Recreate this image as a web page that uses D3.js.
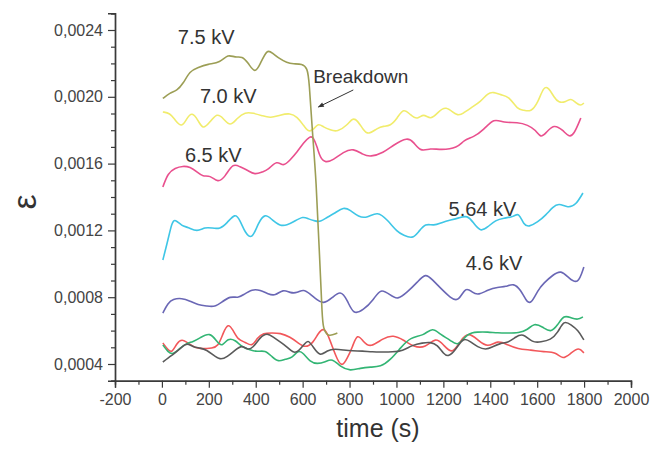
<!DOCTYPE html>
<html>
<head>
<meta charset="utf-8">
<script src="https://cdn.jsdelivr.net/npm/d3@7"></script>
<style>
  body { margin: 0; background: #fff; }
  text { font-family: "Liberation Sans", Arial, sans-serif; }
</style>
</head>
<body>
<div id="chart"></div>
<script>
const width = 652, height = 450;

// 7.5 kV (breaks down near 650 s)
const t_75 = [4, 34, 64, 90, 120, 150, 197, 248, 282, 312, 342, 368, 397, 419, 449, 470, 496, 534, 560, 598, 620, 628, 641, 658, 671, 684, 688, 705, 748];
const e_75 = [0.00199, 0.002024, 0.002036, 0.002078, 0.002155, 0.002173, 0.002197, 0.002203, 0.002257, 0.002233, 0.002245, 0.002203, 0.002137, 0.002197, 0.002287, 0.002263, 0.002233, 0.002203, 0.002197, 0.002197, 0.002173, 0.002095, 0.001797, 0.001498, 0.00108, 0.000662, 0.00062, 0.00056, 0.000585];

// 7.0 kV
const t_70 = [4, 34, 56, 85, 107, 128, 154, 175, 205, 235, 261, 291, 321, 355, 389, 432, 462, 504, 547, 577, 603, 624, 645, 667, 688, 718, 748, 791, 812, 833, 859, 880, 919, 944, 974, 1004, 1030, 1060, 1090, 1115, 1145, 1175, 1209, 1261, 1286, 1316, 1359, 1389, 1415, 1444, 1479, 1517, 1543, 1573, 1603, 1628, 1650, 1671, 1692, 1722, 1744, 1765, 1786, 1799];
const e_70 = [0.001909, 0.001903, 0.001861, 0.001813, 0.001873, 0.001909, 0.001861, 0.001801, 0.001849, 0.001903, 0.001873, 0.001819, 0.001873, 0.001909, 0.001903, 0.001885, 0.001873, 0.001891, 0.001903, 0.001879, 0.001831, 0.001789, 0.001801, 0.001843, 0.001819, 0.001801, 0.001789, 0.001831, 0.001873, 0.001861, 0.001801, 0.001771, 0.001813, 0.001825, 0.001825, 0.001873, 0.001933, 0.001891, 0.001861, 0.001903, 0.001861, 0.001903, 0.001951, 0.001879, 0.001903, 0.001933, 0.001969, 0.002023, 0.002029, 0.002011, 0.002005, 0.001921, 0.001921, 0.001909, 0.001963, 0.002065, 0.002053, 0.001999, 0.001963, 0.001969, 0.001993, 0.001963, 0.001945, 0.001963];

// 6.5 kV
const t_65 = [4, 26, 56, 90, 120, 150, 175, 205, 239, 269, 303, 333, 363, 397, 427, 453, 491, 517, 547, 577, 603, 632, 645, 662, 675, 697, 731, 774, 816, 859, 889, 944, 987, 1047, 1073, 1103, 1145, 1188, 1261, 1286, 1329, 1372, 1415, 1457, 1517, 1560, 1594, 1615, 1637, 1671, 1709, 1735, 1756, 1786];
const e_65 = [0.00146, 0.001544, 0.001574, 0.001586, 0.00158, 0.00155, 0.00152, 0.001532, 0.001484, 0.00152, 0.001604, 0.00158, 0.001562, 0.001532, 0.00155, 0.001562, 0.001622, 0.00158, 0.001622, 0.00167, 0.001723, 0.001765, 0.001759, 0.0017, 0.001634, 0.001604, 0.001622, 0.00167, 0.001693, 0.001652, 0.00164, 0.001664, 0.001711, 0.001759, 0.001729, 0.00167, 0.001693, 0.001681, 0.001693, 0.001741, 0.001759, 0.001801, 0.001873, 0.001843, 0.001849, 0.001831, 0.001801, 0.001753, 0.001783, 0.001837, 0.001801, 0.001759, 0.001771, 0.001873];

// 5.64 kV
const t_564 = [4, 26, 43, 56, 85, 111, 150, 184, 214, 248, 278, 312, 333, 355, 385, 410, 440, 470, 504, 534, 560, 603, 624, 654, 675, 705, 739, 774, 803, 838, 876, 919, 962, 1004, 1030, 1068, 1094, 1124, 1158, 1197, 1231, 1265, 1303, 1329, 1359, 1389, 1423, 1457, 1500, 1521, 1543, 1564, 1603, 1637, 1667, 1692, 1731, 1765, 1795];
const e_564 = [0.001023, 0.001143, 0.00125, 0.001268, 0.001226, 0.00122, 0.00119, 0.00122, 0.001214, 0.001208, 0.001244, 0.001304, 0.001262, 0.001184, 0.001143, 0.001244, 0.001304, 0.001262, 0.001226, 0.001232, 0.00125, 0.001286, 0.001268, 0.001256, 0.00125, 0.00128, 0.001304, 0.00134, 0.001322, 0.00128, 0.001274, 0.001316, 0.001262, 0.00119, 0.001172, 0.001149, 0.00119, 0.001244, 0.001226, 0.00125, 0.001262, 0.001274, 0.001292, 0.001244, 0.00119, 0.00122, 0.001262, 0.001274, 0.00128, 0.00131, 0.001232, 0.00122, 0.00125, 0.001292, 0.00134, 0.001364, 0.001334, 0.001352, 0.001424];

// 4.6 kV
const t_46 = [4, 26, 47, 85, 120, 154, 192, 226, 256, 291, 325, 346, 385, 419, 453, 483, 517, 547, 577, 603, 632, 662, 688, 726, 761, 791, 816, 859, 902, 932, 974, 1004, 1047, 1090, 1124, 1154, 1188, 1231, 1265, 1295, 1325, 1350, 1389, 1432, 1466, 1500, 1530, 1551, 1573, 1603, 1628, 1667, 1701, 1735, 1774, 1799];
const e_46 = [0.000705, 0.000765, 0.000789, 0.000795, 0.000777, 0.000753, 0.000747, 0.000741, 0.000771, 0.000807, 0.000795, 0.000813, 0.000849, 0.000843, 0.000819, 0.000807, 0.000849, 0.000825, 0.000825, 0.000849, 0.000819, 0.000783, 0.000759, 0.000795, 0.000843, 0.000783, 0.000693, 0.000723, 0.000783, 0.000855, 0.000813, 0.000783, 0.000831, 0.000891, 0.000945, 0.000903, 0.000855, 0.000795, 0.000771, 0.000867, 0.000825, 0.000813, 0.000843, 0.000861, 0.000861, 0.000885, 0.000843, 0.000783, 0.000753, 0.000843, 0.000885, 0.000933, 0.000963, 0.000915, 0.000873, 0.000981];

// low-voltage runs (unlabelled): red, green, dark grey
const t_red = [4, 26, 43, 64, 85, 111, 141, 175, 214, 239, 261, 282, 303, 325, 355, 385, 406, 432, 470, 504, 547, 581, 611, 645, 667, 688, 705, 727, 748, 769, 791, 812, 833, 859, 889, 944, 987, 1030, 1073, 1124, 1167, 1201, 1239, 1274, 1308, 1346, 1389, 1432, 1474, 1517, 1573, 1628, 1680, 1709, 1744, 1778, 1799];
const e_red = [0.000526, 0.000484, 0.000466, 0.000526, 0.00055, 0.000526, 0.000496, 0.00049, 0.000496, 0.000502, 0.000586, 0.000646, 0.000604, 0.000544, 0.000532, 0.000502, 0.000556, 0.000586, 0.000586, 0.000586, 0.000562, 0.000526, 0.000496, 0.000526, 0.000586, 0.000616, 0.000586, 0.000502, 0.000424, 0.000382, 0.000436, 0.0005, 0.000586, 0.000532, 0.000496, 0.000556, 0.000574, 0.000544, 0.000502, 0.000496, 0.000562, 0.000514, 0.000454, 0.000544, 0.000592, 0.000544, 0.000496, 0.000544, 0.000514, 0.00049, 0.000484, 0.000472, 0.000472, 0.000424, 0.000466, 0.000502, 0.000466];

const t_green = [4, 26, 47, 77, 107, 132, 162, 205, 235, 256, 282, 312, 342, 376, 406, 440, 470, 496, 526, 556, 581, 603, 632, 662, 697, 726, 761, 803, 846, 889, 932, 974, 1017, 1060, 1115, 1154, 1188, 1231, 1261, 1303, 1346, 1389, 1432, 1474, 1521, 1560, 1586, 1624, 1658, 1688, 1714, 1744, 1774, 1795];
const e_green = [0.000514, 0.000472, 0.000454, 0.000496, 0.000526, 0.000532, 0.000556, 0.000592, 0.000532, 0.000502, 0.000556, 0.000544, 0.000502, 0.000484, 0.000472, 0.000484, 0.000442, 0.000412, 0.00043, 0.000436, 0.000484, 0.000466, 0.000412, 0.0004, 0.000412, 0.000436, 0.000382, 0.000358, 0.000376, 0.000382, 0.000382, 0.000424, 0.000496, 0.000562, 0.000568, 0.000622, 0.000574, 0.000544, 0.000502, 0.000586, 0.000592, 0.000592, 0.000586, 0.000586, 0.000586, 0.000604, 0.000646, 0.000622, 0.000586, 0.000634, 0.000694, 0.000676, 0.000664, 0.000682];

const t_grey = [4, 26, 56, 85, 107, 132, 162, 192, 218, 248, 278, 312, 342, 363, 389, 419, 449, 474, 504, 534, 560, 581, 611, 624, 645, 675, 705, 739, 774, 812, 855, 897, 940, 983, 1026, 1068, 1111, 1145, 1175, 1201, 1222, 1252, 1286, 1316, 1346, 1380, 1410, 1444, 1474, 1509, 1538, 1581, 1615, 1658, 1688, 1714, 1744, 1774, 1799];
const e_grey = [0.000412, 0.000436, 0.000466, 0.000502, 0.000526, 0.000502, 0.000496, 0.000484, 0.000454, 0.000424, 0.000442, 0.000484, 0.000514, 0.000484, 0.000496, 0.000562, 0.000586, 0.000562, 0.000532, 0.000502, 0.000466, 0.000472, 0.000526, 0.000544, 0.000502, 0.000442, 0.000484, 0.00049, 0.000484, 0.000478, 0.000478, 0.000472, 0.000472, 0.000472, 0.000478, 0.000514, 0.000526, 0.000532, 0.000514, 0.00046, 0.000442, 0.000484, 0.000562, 0.000532, 0.000502, 0.000484, 0.000502, 0.000526, 0.000526, 0.000562, 0.000586, 0.000526, 0.000532, 0.000544, 0.000586, 0.000664, 0.000634, 0.000604, 0.000544];

// curve labels: text, time, epsilon at baseline
const label_text = ['7.5 kV', '7.0 kV', '6.5 kV', '5.64 kV', '4.6 kV'];
const label_t = [68, 162, 98, 1222, 1295];
const label_e = [0.002316, 0.001963, 0.00161, 0.001286, 0.000963];

const xTicks = [-200, 0, 200, 400, 600, 800, 1000, 1200, 1400, 1600, 1800, 2000];
const yTicks = [0.0004, 0.0008, 0.0012, 0.0016, 0.0020, 0.0024];

const series = [
  { t: t_red, e: e_red, color: '#f2575a' },
  { t: t_green, e: e_green, color: '#33b574' },
  { t: t_grey, e: e_grey, color: '#5a5a5a' },
  { t: t_46, e: e_46, color: '#6a67b5' },
  { t: t_564, e: e_564, color: '#3fc6e6' },
  { t: t_65, e: e_65, color: '#e9508e' },
  { t: t_70, e: e_70, color: '#f1ec6c' },
  { t: t_75, e: e_75, color: '#9c9e55' }
];

const x = d3.scaleLinear().domain([-200, 2000]).range([115, 631]);
const y = d3.scaleLinear().domain([0.0003, 0.0025]).range([380.7, 13.3]);

const svg = d3.select('#chart')
  .append('svg')
  .attr('width', width)
  .attr('height', height)

const line = d3.line()
  .x(d => x(d[0]))
  .y(d => y(d[1]))
  .curve(d3.curveBasis)

series.forEach(s => {
  svg.append('path')
    .datum(s.t.map((t, i) => [t, s.e[i]]))
    .attr('d', line)
    .attr('fill', 'none')
    .attr('stroke', s.color)
    .attr('stroke-width', 1.6)
});

// axes
const fmt = d => d3.format('.4f')(d).replace('.', ',');
const axisColor = '#3a3a3a';

const xAxis = svg.append('g')
  .attr('transform', `translate(0,${y(0.0003)})`)
  .call(d3.axisBottom(x).tickValues(xTicks).tickSize(7).tickPadding(6).tickFormat(d => String(d)))
const xMinor = svg.append('g')
  .attr('transform', `translate(0,${y(0.0003)})`)
  .call(d3.axisBottom(x).tickValues(d3.range(-100, 2000, 200)).tickSize(4).tickFormat(''))

const yAxis = svg.append('g')
  .attr('transform', `translate(${x(-200)},0)`)
  .call(d3.axisLeft(y).tickValues(yTicks).tickSize(7).tickPadding(5).tickFormat(fmt))
const yMinor = svg.append('g')
  .attr('transform', `translate(${x(-200)},0)`)
  .call(d3.axisLeft(y).tickValues(d3.range(3, 26).map(v => v / 10000).filter(v => Math.round(v * 10000) % 4 !== 0)).tickSize(4).tickFormat(''))

;[xAxis, xMinor, yAxis, yMinor].forEach(g => {
  g.select('.domain').attr('stroke', axisColor).attr('stroke-width', 1.4);
  g.selectAll('.tick line').attr('stroke', axisColor).attr('stroke-width', 1.2);
  g.selectAll('.tick text').attr('fill', '#444').attr('font-size', 16)
    .attr('font-family', '"Liberation Sans", Arial, sans-serif');
});

// axis titles
svg.append('text')
  .attr('x', 378).attr('y', 437)
  .attr('text-anchor', 'middle')
  .attr('font-size', 25)
  .attr('fill', '#333')
  .text('time (s)')

svg.append('text')
  .attr('transform', 'translate(36,202) rotate(-90)')
  .attr('text-anchor', 'middle')
  .attr('font-size', 34)
  .attr('fill', '#333')
  .text('ε')

// curve labels
label_text.forEach((txt, i) => {
  svg.append('text')
    .attr('x', x(label_t[i])).attr('y', y(label_e[i]))
    .attr('font-size', 20)
    .attr('fill', '#333')
    .text(txt)
});

// breakdown annotation
svg.append('defs').append('marker')
  .attr('id', 'arrow')
  .attr('viewBox', '0 0 10 10')
  .attr('refX', 9).attr('refY', 5)
  .attr('markerWidth', 8).attr('markerHeight', 6)
  .attr('orient', 'auto')
  .append('path')
  .attr('d', 'M0,1L10,5L0,9z')
  .attr('fill', '#333')

svg.append('text')
  .attr('x', x(645)).attr('y', y(0.002083))
  .attr('font-size', 19)
  .attr('fill', '#333')
  .text('Breakdown')

svg.append('line')
  .attr('x1', x(816)).attr('y1', y(0.002041))
  .attr('x2', x(667)).attr('y2', y(0.001939))
  .attr('stroke', '#333')
  .attr('stroke-width', 1)
  .attr('marker-end', 'url(#arrow)')
</script>
</body>
</html>
